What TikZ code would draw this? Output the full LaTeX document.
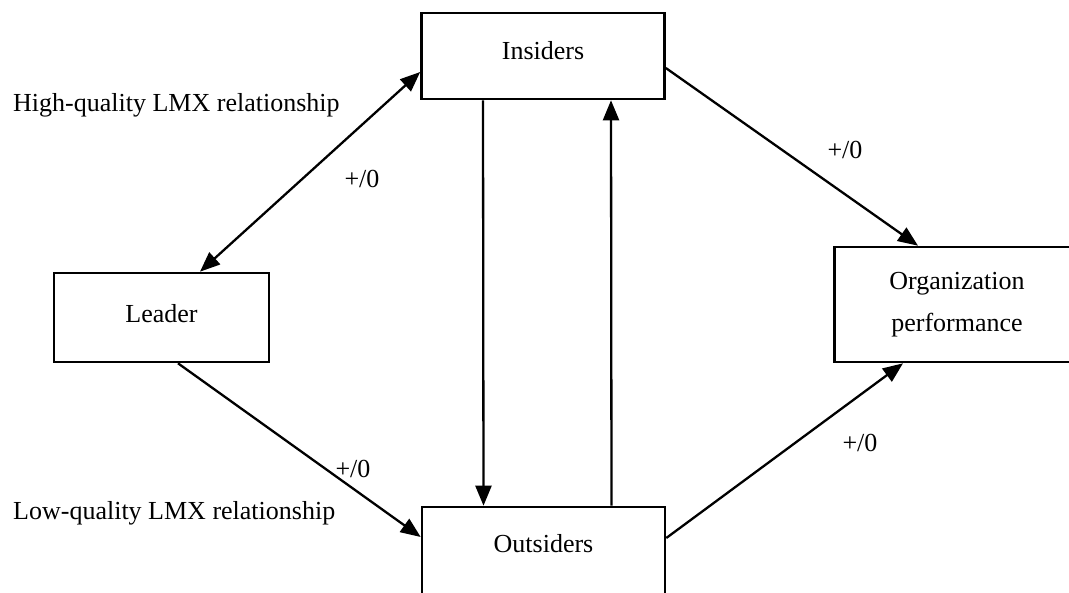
\documentclass[tikz,border=0pt]{standalone}
\usepackage{fontspec}
\setmainfont{Liberation Serif}
\usetikzlibrary{arrows.meta}

\begin{document}
\begin{tikzpicture}[x=1pt,y=-1pt,
  font=\fontsize{26}{42}\selectfont,
  >={Triangle[length=20pt,width=16pt]},
  box/.style={draw,line width=2.6pt,inner sep=0pt,align=center},
  link/.style={line width=2.3pt},
  sign/.style={inner sep=0pt}]
\useasboundingbox (0,0) rectangle (1069,593);

\node[box,minimum width=243pt,minimum height=86pt,text depth=12pt] (ins) at (543,56) {Insiders};
\node[box,minimum width=215pt,minimum height=89pt,text depth=9pt] (leader) at (161.5,317.5) {Leader};
\node[box,minimum width=243pt,minimum height=90pt,text depth=18pt] (outs) at (543.5,552) {Outsiders};
\node[box,minimum width=245pt,minimum height=115pt] (org) at (957,304.5) {Organization\\performance};

\draw[link,<->] ([shift={(38.5,0)}] leader.north) -- ([shift={(0,16)}] ins.west);
\draw[link,->] ([shift={(16.5,0)}] leader.south) -- ([shift={(0,-15)}] outs.west);
\draw[link,->] ([shift={(-60,0)}] ins.south) -- ([shift={(-60,0)}] outs.north);
\draw[link,->] ([shift={(68,0)}] outs.north) -- ([shift={(68,0)}] ins.south);
\draw[link,->] ([shift={(0,12)}] ins.east) -- ([shift={(-39,0)}] org.north);
\draw[link,->] ([shift={(0,-14)}] outs.east) -- ([shift={(-54,0)}] org.south);

\node[sign,anchor=west] (high) at (13,105) {High-quality LMX relationship};
\node[sign,anchor=west] (low) at (13,513) {Low-quality LMX relationship};
\node[sign] (s1) at (362,179) {+/0};
\node[sign] (s2) at (845,150) {+/0};
\node[sign] (s3) at (353,469) {+/0};
\node[sign] (s4) at (860,443) {+/0};

\end{tikzpicture}
\end{document}
